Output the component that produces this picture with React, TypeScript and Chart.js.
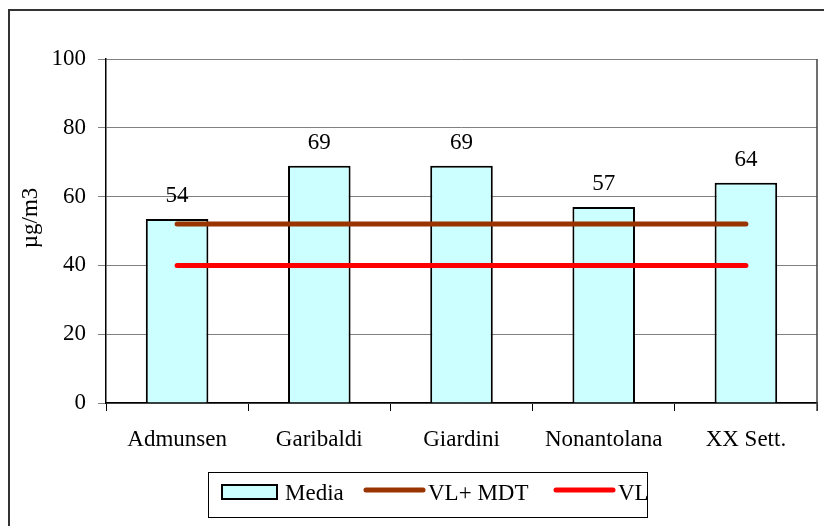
import React, { useEffect, useRef } from "react";
import { Chart, registerables } from "chart.js";

Chart.register(...registerables);

const categories = ["Admunsen", "Garibaldi", "Giardini", "Nonantolana", "XX Sett."];
const mediaValues = [53.5, 69, 69, 57, 64];
const vlMdtValues = [52, 52, 52, 52, 52];
const vlValues = [40, 40, 40, 40, 40];
const seriesNames = ["Media", "VL+ MDT", "VL"];
const yAxisTitle = "µg/m3";
const yMin = 0;
const yMax = 100;
const yStep = 20;

const FONT = "'Liberation Serif', 'Times New Roman', serif";
const FS = 23;

const decorPlugin = {
  id: "decor",
  beforeDraw(chart: any) {
    const ctx = chart.ctx;
    ctx.save();
    ctx.fillStyle = "#ffffff";
    ctx.fillRect(0, 0, chart.width, chart.height);
    ctx.strokeStyle = "#333333";
    ctx.lineWidth = 2;
    ctx.strokeRect(9, 10, chart.width + 20, chart.height + 20);
    ctx.restore();
  },
  afterDraw(chart: any) {
    const ctx = chart.ctx;
    const area = chart.chartArea;
    ctx.save();
    ctx.strokeStyle = "#404040";
    ctx.lineWidth = 1.5;
    ctx.beginPath();
    ctx.moveTo(area.right, area.top);
    ctx.lineTo(area.right, area.bottom + 8);
    ctx.stroke();

    ctx.fillStyle = "#000";
    ctx.font = `${FS}px ${FONT}`;
    ctx.textAlign = "center";
    ctx.textBaseline = "middle";
    ctx.translate(31, 218);
    ctx.rotate(-Math.PI / 2);
    ctx.fillText(yAxisTitle, 0, 0);
    ctx.restore();

    ctx.save();
    ctx.strokeStyle = "#000";
    ctx.lineWidth = 1;
    ctx.strokeRect(208.5, 472.5, 439, 45);
    ctx.font = `${FS}px ${FONT}`;
    ctx.textBaseline = "alphabetic";
    ctx.textAlign = "left";
    ctx.fillStyle = "#CCFFFF";
    ctx.fillRect(222, 485, 55, 14);
    ctx.strokeStyle = "#000";
    ctx.lineWidth = 2;
    ctx.strokeRect(222, 485, 55, 14);
    ctx.fillStyle = "#000";
    ctx.fillText(chart.data.datasets[0].label, 285, 500);
    ctx.lineCap = "round";
    ctx.lineWidth = 5;
    ctx.strokeStyle = chart.data.datasets[1].borderColor;
    ctx.beginPath();
    ctx.moveTo(366, 490);
    ctx.lineTo(423, 490);
    ctx.stroke();
    ctx.fillText(chart.data.datasets[1].label, 428, 500);
    ctx.strokeStyle = chart.data.datasets[2].borderColor;
    ctx.beginPath();
    ctx.moveTo(556, 490);
    ctx.lineTo(613, 490);
    ctx.stroke();
    ctx.fillText(chart.data.datasets[2].label, 618, 500);
    ctx.restore();
  },
  afterDatasetsDraw(chart: any) {
    const ctx = chart.ctx;
    const meta = chart.getDatasetMeta(0);
    const data = chart.data.datasets[0].data;
    ctx.save();
    ctx.font = `${FS}px ${FONT}`;
    ctx.fillStyle = "#000";
    ctx.textAlign = "center";
    ctx.textBaseline = "alphabetic";
    meta.data.forEach((el: any, i: number) => {
      ctx.fillText(String(Math.round(data[i])), el.x, el.y - 17);
    });
    ctx.restore();
  },
};

export default function App() {
  const ref = useRef<HTMLCanvasElement | null>(null);
  useEffect(() => {
    if (!ref.current) return;
    const chart = new Chart(ref.current, {
      type: "bar",
      data: {
        labels: categories,
        datasets: [
          {
            type: "bar",
            label: seriesNames[0],
            data: mediaValues,
            backgroundColor: "#CCFFFF",
            borderColor: "#000000",
            borderWidth: 2,
            categoryPercentage: 1,
            barPercentage: 0.44,
            order: 3,
          },
          {
            type: "line",
            label: seriesNames[1],
            data: vlMdtValues,
            borderColor: "#993300",
            backgroundColor: "#993300",
            borderWidth: 5,
            borderCapStyle: "round",
            pointRadius: 0,
            order: 2,
          },
          {
            type: "line",
            label: seriesNames[2],
            data: vlValues,
            borderColor: "#FF0000",
            backgroundColor: "#FF0000",
            borderWidth: 5,
            borderCapStyle: "round",
            pointRadius: 0,
            order: 1,
          },
        ] as any,
      },
      options: {
        animation: false,
        responsive: false,
        maintainAspectRatio: false,
        layout: { padding: { left: 0, top: 59, right: 7, bottom: 0 } },
        plugins: {
          legend: { display: false },
          tooltip: { enabled: false },
          title: { display: false },
        },
        scales: {
          x: {
            offset: true,
            grid: {
              offset: true,
              drawOnChartArea: false,
              drawTicks: true,
              tickLength: 8,
              color: "#000",
            },
            border: { color: "#000", width: 1.5 },
            ticks: {
              color: "#000",
              font: { family: FONT, size: FS },
              padding: 15,
              maxRotation: 0,
              autoSkip: false,
            },
            afterFit(scale: any) {
              scale.height = 123;
            },
          },
          y: {
            min: yMin,
            max: yMax,
            grid: {
              color: "#808080",
              lineWidth: 1,
              drawTicks: true,
              tickLength: 8,
            },
            border: { color: "#000", width: 1.5 },
            ticks: {
              stepSize: yStep,
              color: "#000",
              font: { family: FONT, size: FS },
              padding: 12,
            },
            afterFit(scale: any) {
              scale.width = 106;
            },
          },
        },
      },
      plugins: [decorPlugin],
    });
    return () => chart.destroy();
  }, []);
  return (
    <div style={{ position: "fixed", left: 0, top: 0, width: 824, height: 526 }}>
      <canvas ref={ref} width={824} height={526} style={{ width: 824, height: 526 }} />
    </div>
  );
}
